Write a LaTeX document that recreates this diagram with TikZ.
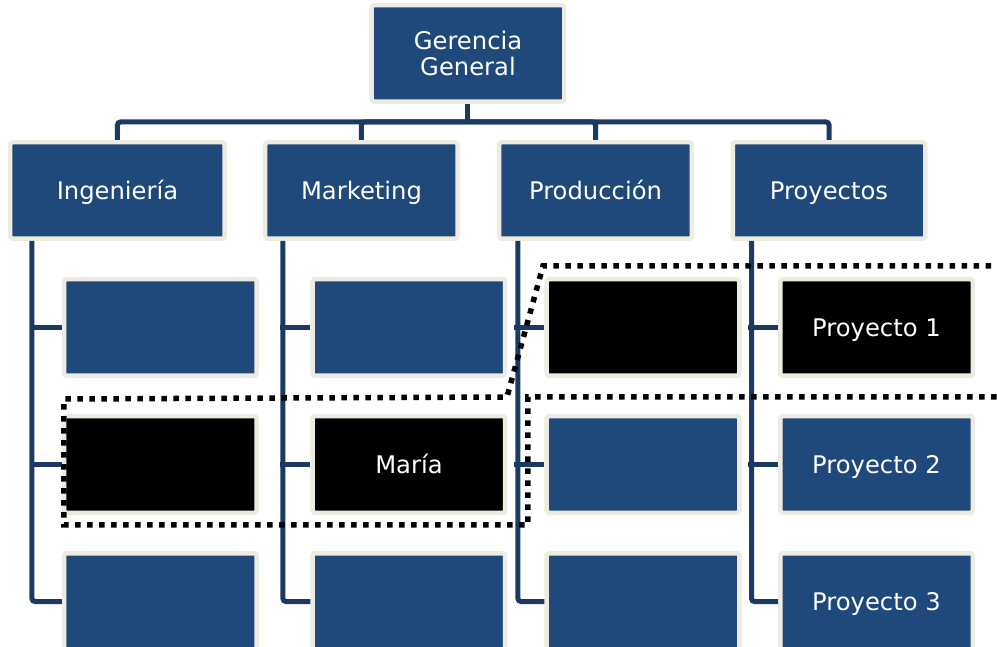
\documentclass[tikz,border=0pt]{standalone}
\usepackage{fontspec}
\setmainfont{DejaVu Sans}
\usepackage{tikz}
\usetikzlibrary{shapes.geometric, arrows}
\definecolor{orgblue}{RGB}{32,73,123}
\definecolor{orgline}{RGB}{26,58,100}
\definecolor{orgcream}{RGB}{238,236,225}
\tikzstyle{box} = [rectangle, rounded corners=1pt, minimum width=3.85cm, minimum height=1.93cm, fill=orgblue, draw=orgcream, line width=0.09cm, text=white, align=center, font=\fontsize{13.8pt}{14.8pt}\selectfont]
\tikzstyle{unit} = [box, text height=10pt, text depth=0pt]
\tikzstyle{hidden} = [unit, fill=black]
\tikzstyle{link} = [draw=orgline, line width=0.1cm, rounded corners=0.06cm]
\tikzstyle{marked} = [draw=black, line width=0.11cm, dash pattern=on 0.11cm off 0.13cm]

\begin{document}
\begin{tikzpicture}[node distance=2.74cm]
	\useasboundingbox (-9.36,1.07) rectangle (10.58,-11.87);

	\node (ger) [box] {Gerencia\\General};

	\node (ing) [unit, minimum width=4.29cm, below of=ger, xshift=-7.01cm] {Ingeniería};
	\node (mkt) [unit, below of=ger, xshift=-2.13cm] {Marketing};
	\node (prod) [unit, below of=ger, xshift=2.55cm] {Producción};
	\node (proy) [unit, below of=ger, xshift=7.22cm] {Proyectos};

	\draw [link] (ger.south) -- ++(0,-0.36) coordinate (bar);
	\draw [link] (bar) -| (ing);
	\draw [link] (bar) -| (mkt);
	\draw [link] (bar) -| (prod);
	\draw [link] (bar) -| (proy);

	\node (ing1) [unit, below of=ing, xshift=0.86cm] {};
	\node (ing2) [hidden, below of=ing1] {};
	\node (ing3) [unit, below of=ing2] {};

	\node (mkt1) [unit, below of=mkt, xshift=0.95cm] {};
	\node (mkt2) [hidden, below of=mkt1] {María};
	\node (mkt3) [unit, below of=mkt2] {};

	\node (prod1) [hidden, below of=prod, xshift=0.95cm] {};
	\node (prod2) [unit, below of=prod1] {};
	\node (prod3) [unit, below of=prod2] {};

	\node (proy1) [hidden, below of=proy, xshift=0.95cm] {Proyecto 1};
	\node (proy2) [unit, below of=proy1] {Proyecto 2};
	\node (proy3) [unit, below of=proy2] {Proyecto 3};

	\draw [link] ([xshift=0.48cm]ing.south west) |- (ing3.west);
	\draw [link] (ing1.west) -- ++(-0.6,0);
	\draw [link] (ing2.west) -- ++(-0.6,0);

	\draw [link] ([xshift=0.4cm]mkt.south west) |- (mkt3.west);
	\draw [link] (mkt1.west) -- ++(-0.6,0);
	\draw [link] (mkt2.west) -- ++(-0.6,0);

	\draw [link] ([xshift=0.42cm]prod.south west) |- (prod3.west);
	\draw [link] (prod1.west) -- ++(-0.6,0);
	\draw [link] (prod2.west) -- ++(-0.6,0);

	\draw [link] ([xshift=0.42cm]proy.south west) |- (proy3.west);
	\draw [link] (proy1.west) -- ++(-0.6,0);
	\draw [link] (proy2.west) -- ++(-0.6,0);

	\draw [marked] (10.7,-4.25) -- (1.5,-4.25) -- (0.78,-6.87) -- (-8.08,-6.91) -- (-8.08,-9.43) -- (1.2,-9.43) -- (1.2,-6.87) -- (10.7,-6.87);
\end{tikzpicture}
\end{document}
